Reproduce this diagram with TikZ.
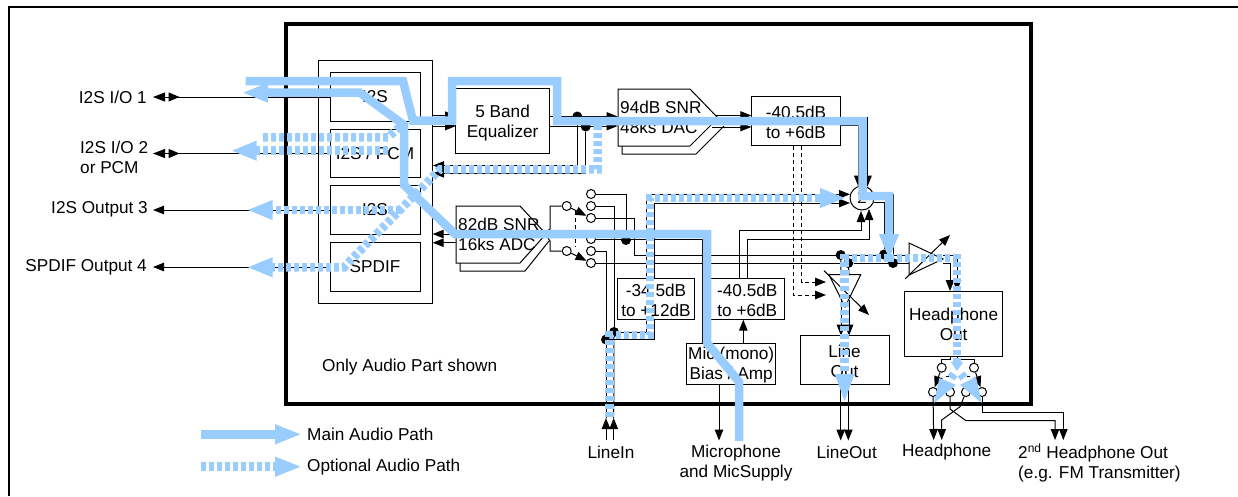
\documentclass[tikz,border=0pt]{standalone}
\usepackage{fontspec}
\setmainfont{Liberation Sans}
\usetikzlibrary{arrows.meta}
\definecolor{pathblue}{HTML}{99CCFF}
\tikzset{
  txt/.style={inner sep=0pt,align=center,font=\fontsize{17.2}{20}\selectfont},
  blk/.style={draw,line width=1pt,inner sep=0pt},
  blab/.style={txt,yshift=-1.3pt},
  wire/.style={line width=1pt},
  sig/.style={line width=1pt,-{Triangle[length=11pt,width=8.5pt]}},
  dsig/.style={sig,dashed,dash pattern=on 4pt off 3pt},
  pinc/.style={circle,draw,fill=white,line width=1pt,minimum size=9pt,inner sep=0pt},
  jdot/.style={circle,fill=black,minimum size=10pt,inner sep=0pt},
  bus/.style={line width=1pt,-{Triangle[reversed,length=11pt,width=9pt,sep=3.5pt] Triangle[length=12pt,width=9pt]}},
  mainp/.style={pathblue,line width=8.5pt,miter limit=10},
  optp/.style={pathblue,line width=8.5pt,dash pattern=on 5pt off 3pt,miter limit=10},
  bh/.style={-{Triangle[length=26pt,width=18pt]}}
}
\begin{document}
\begin{tikzpicture}[x=1pt,y=-1pt]
\useasboundingbox (0,0) rectangle (1238,496);
% frames
\draw[line width=2.2pt] (9,496) -- (9,7) -- (1238,7);
\draw[line width=4pt] (286,24) rectangle (1031,403.5);

% interface column
\node[draw,line width=1pt,minimum width=114pt,minimum height=242.5pt,inner sep=0pt] (big) at (375,181.75) {};
\node[blk,minimum width=90pt,minimum height=48.5pt,label={[txt]center:I2S}] (ia) at (375,97) {};
\node[blk,minimum width=90pt,minimum height=48.5pt,label={[txt]center:I2S / PCM}] (ib) at (375,153.5) {};
\node[blk,minimum width=90pt,minimum height=48.5pt,label={[txt]center:I2S}] (ic) at (375,210) {};
\node[blk,minimum width=90pt,minimum height=48.5pt,label={[txt]center:SPDIF}] (id) at (375,267) {};

% external labels
\node[txt,anchor=east] (la) at (147,97.5) {I2S I/O 1};
\node[txt,anchor=west,align=left] (lb) at (80,157) {I2S I/O 2\\or PCM};
\node[txt,anchor=east] (lc) at (148,209) {I2S Output 3};
\node[txt,anchor=east] (ld) at (147,267) {SPDIF Output 4};
\coordinate (ta) at (153,97);
\coordinate (tb) at (153,153.5);
\coordinate (tc) at (153,210);
\coordinate (td) at (153,267);
\draw[bus] (ia.west) -- (ta);
\draw[bus] (ib.west) -- (tb);
\draw[sig] (ic.west) -- (tc);
\draw[sig] (id.west) -- (td);

% processing blocks
\node[blk,minimum width=93.5pt,minimum height=65pt,label={[blab]center:{5 Band\\Equalizer}}] (eq) at (502.6,121.3) {};
\draw[wire] (622,146) -- (622,154) -- (696,154) -- (724,126);
\draw[wire] (618,89) -- (690,89) -- (718,118) -- (690,146) -- (618,146) -- cycle;
\node[txt,align=left,anchor=west] (dac) at (620,117.3) {94dB SNR\\48ks DAC};
\node[blk,minimum width=89.5pt,minimum height=48.5pt,label={[blab]center:{-40.5dB\\to +6dB}}] (ga) at (796,121) {};
\draw[wire] (460,263) -- (460,271) -- (525,271) -- (549,241);
\draw[wire] (456,206) -- (520,206) -- (546,234) -- (520,263) -- (456,263) -- cycle;
\node[txt,align=left,anchor=west] (adc) at (458,234.3) {82dB SNR\\16ks ADC};
\node[blk,minimum width=77.5pt,minimum height=41pt,label={[blab]center:{-34.5dB\\to +12dB}}] (gc) at (656,299.2) {};
\node[blk,minimum width=73.5pt,minimum height=41pt,label={[blab]center:{-40.5dB\\to +6dB}}] (gb) at (747.3,299.2) {};
\node[blk,minimum width=89pt,minimum height=41pt,label={[blab]center:{Mic (mono)\\Bias / Amp}}] (mic) at (731.2,363.8) {};
\node[blk,minimum width=89pt,minimum height=48.5pt,label={[blab]center:{Line\\Out}}] (lo) at (844.5,360) {};
\node[blk,minimum width=97.3pt,minimum height=65pt,label={[blab]center:{Headphone\\Out}}] (hp) at (953.6,323.5) {};
\node[draw,circle,fill=white,line width=1pt,minimum size=24pt,inner sep=0pt,font=\fontsize{15}{15}\selectfont] (sum) at (862,198) {Σ};

% line-out and headphone amplifiers
\coordinate (laA) at (829,274.7); \coordinate (laB) at (860.7,274.7); \coordinate (laC) at (845,307);
\draw[wire] (laA) -- (laB) -- (laC) -- cycle;
\coordinate (lv1) at (824,270.7); \coordinate (lv2) at (869,315);
\draw[sig] (lv1) -- (lv2);
\coordinate (haA) at (909,243); \coordinate (haB) at (909,275); \coordinate (haC) at (943,259);
\draw[wire] (haA) -- (haB) -- (haC) -- cycle;
\coordinate (hv1) at (905,279); \coordinate (hv2) at (950,235);
\draw[sig] (hv1) -- (hv2);

% switches
\node[pinc] (sl1) at (566.7,206) {};
\node[pinc] (sl2) at (566.7,251) {};
\node[pinc] (p1) at (591,194) {};
\node[pinc] (p2) at (591,206) {};
\node[pinc] (p3) at (591,218) {};
\node[pinc] (p4) at (591,239) {};
\node[pinc] (p5) at (591,251) {};
\node[pinc] (p6) at (591,263) {};
\draw[sig] (sl1) -- (p3);
\draw[sig] (sl2) -- (p6);
\coordinate (lk1) at (575,211); \coordinate (lk2) at (575,247);
\draw[wire,dashed,dash pattern=on 4pt off 3pt] (lk1) -- (lk2);
\coordinate (sa) at (550,206); \coordinate (sb) at (550,251);
\coordinate (sae) at (546,232); \coordinate (sbe) at (548,238);
\draw[wire] (sl1) -- (sa) -- (550,229) -- (sae);
\draw[wire] (sl2) -- (sb) -- (550,241) -- (sbe);

% junctions
\node[jdot] (d1) at (577.3,116.5) {};
\node[jdot] (d2) at (585.7,126.5) {};
\node[jdot] (dA) at (606,339.5) {};
\node[jdot] (dB) at (614,332) {};
\node[jdot] (dC) at (626,240) {};
\node[jdot] (dE) at (840.7,255) {};
\node[jdot] (dF) at (848.3,263) {};
\node[jdot] (dG) at (884,254.5) {};
\node[jdot] (dH) at (893,263) {};

% digital signal connectors
\coordinate (ei1) at (456,115.7); \coordinate (ei2) at (456,126);
\draw[sig] (big.east |- ei1) -- (ei1);
\draw[sig] (big.east |- ei2) -- (ei2);
\coordinate (da1) at (617.7,116.5); \coordinate (da2) at (617.7,126);
\draw[sig] (eq.east |- da1) -- (da1);
\draw[sig] (eq.east |- da2) -- (da2);
\coordinate (fb1) at (433,165.5); \coordinate (fb2) at (433,173.3);
\draw[sig] (d1) |- (fb1);
\draw[sig] (d2) |- (fb2);
\coordinate (ga1) at (751.3,115.5); \coordinate (ga2) at (751.3,127);
\draw[sig] (716,115.5) -- (ga1);
\draw[sig] (712,127) -- (ga2);
\coordinate (st1) at (867.5,186.5); \coordinate (st2) at (858.3,186.5);
\coordinate (go1) at (840.7,117); \coordinate (go2) at (840.7,125);
\draw[sig] (go1) -| (st1);
\draw[sig] (go2) -| (st2);
\coordinate (ad1) at (432.7,234); \coordinate (ad2) at (432.7,242.7);
\draw[sig] (456,234) -- (ad1);
\draw[sig] (456,242.7) -- (ad2);
% dashed to line-out amp
\coordinate (la1) at (826,282); \coordinate (la2) at (826,295);
\coordinate (gu1) at (801.7,145.5); \coordinate (gu2) at (793.3,145.5);
\draw[dsig] (gu1) |- (la1);
\draw[dsig] (gu2) |- (la2);

% analog routing
\draw[wire] (p1) -| (dC);
\draw[wire] (p2) -| (dB);
\draw[wire] (p5) -| (dA);
\coordinate (mt) at (702.7,343.3);
\draw[wire] (p4) -| (mt);
\coordinate (kn) at (634.7,255);
\draw[wire] (p3) -| (kn) -- (dE);
\draw[wire] (p6) -- (dF);
\draw[wire] (dE) -- (909,255);
\draw[wire] (dF) -- (909,263);
\coordinate (su1) at (850,194.3); \coordinate (su2) at (850,203);
\coordinate (g3a) at (646.7,278.7); \coordinate (g3b) at (654.3,278.7);
\draw[sig] (g3a) |- (su1);
\draw[sig] (g3b) |- (su2);
\coordinate (g3c) at (646.7,319.7); \coordinate (g3d) at (654.3,319.7);
\draw[wire] (g3c) |- (dB);
\draw[wire] (g3d) |- (dA);
% sum inputs from lower gain
\coordinate (g2a) at (739,278.7); \coordinate (g2b) at (747.3,278.7);
\coordinate (s1k) at (861,230.7); \coordinate (s2k) at (869,239);
\coordinate (sb1) at (861,211); \coordinate (sb2) at (869,209);
\draw[sig] (g2a) |- (s1k) -- (sb1);
\draw[sig] (g2b) |- (s2k) -- (sb2);
% sum outputs
\draw[wire] (sum.east |- su1) -- (893,194.3) -- (dH);
\draw[wire] (874,202) -- (884,202) -- (dG);
% mic
\coordinate (mg) at (743.3,319.7); \coordinate (mgb) at (743.3,343.3);
\draw[sig] (mgb) -- (mg);
\coordinate (mb) at (719,384.3); \coordinate (mo) at (719,440.5);
\draw[sig] (mb) -- (mo);
% LineIn
\coordinate (li1) at (606,440); \coordinate (li2) at (613.7,440);
\coordinate (lt1) at (606,418); \coordinate (lt2) at (613.7,418);
\draw[sig] (li1) -- (lt1);
\draw[sig] (li2) -- (lt2);
\draw[wire] (lt1) -- (dA);
\draw[wire] (lt2) -- (dB);
% Line out
\coordinate (a1) at (841,275); \coordinate (a2) at (849,275);
\draw[wire] (dE) -- (a1);
\draw[wire] (dF) -- (a2);
\coordinate (a3) at (841,300); \coordinate (a4) at (849,300);
\draw[sig] (a3) -- (841,335.7);
\draw[sig] (a4) -- (849,335.7);
\coordinate (o1) at (840.7,440.5); \coordinate (o2) at (848.3,440.5);
\draw[sig] (o1 |- lo.south) -- (o1);
\draw[sig] (o2 |- lo.south) -- (o2);
% headphone amp
\coordinate (h1) at (950,291); \coordinate (h2) at (957,291);
\draw[sig] (943,263) -| (h1);
\draw[sig] (943,255) -| (h2);

% headphone switch
\node[pinc] (hs1) at (941.7,367.7) {};
\node[pinc] (hs2) at (974,367.7) {};
\node[pinc] (hp1) at (933,392) {};
\node[pinc] (hp2) at (950,392) {};
\node[pinc] (hp3) at (966,392) {};
\node[pinc] (hp4) at (982,392) {};
\coordinate (hu1) at (950,356); \coordinate (hu2) at (957,356);
\draw[wire] (hu1) -- (950,359) -- (941.7,359) -- (hs1);
\draw[wire] (hu2) -- (957,359) -- (974,359) -- (hs2);
\draw[sig] (hs1) -- (hp1);
\draw[sig] (hs2) -- (hp4);
\coordinate (hl1) at (946,376); \coordinate (hl2) at (970,376);
\draw[wire,dashed,dash pattern=on 4pt off 3pt] (hl1) -- (hl2);
\coordinate (ho1) at (933.7,440); \coordinate (ho2) at (941.7,440);
\coordinate (ho3) at (1055,440); \coordinate (ho4) at (1063.3,440);
\draw[sig] (hp1) -- (ho1);
\draw[sig] (hp3) -- (960,406.7) -- (941.7,420) -- (ho2);
\draw[sig] (hp2) -- (950,409) -- (966,420.7) -- (1055,420.7) -- (ho3);
\draw[sig] (hp4) -- (982,412.7) -- (1063.3,412.7) -- (ho4);

% captions
\node[txt,anchor=west] (cap) at (322,367.5) {Only Audio Part shown};
\node[txt] (cli) at (611,452) {LineIn};
\node[txt] (cmi) at (736,463) {Microphone\\and MicSupply};
\node[txt] (clo) at (846.7,452) {LineOut};
\node[txt] (chp) at (946.7,452.3) {Headphone};
\node[txt,align=left,anchor=west] (cfm) at (1018,462.7) {2\textsuperscript{nd} Headphone Out\\(e.g. FM Transmitter)};

% blue audio paths
\coordinate (m1s) at (245.7,81); \coordinate (m1e) at (889,260);
\draw[mainp,bh] (m1s) -- (403,81) -- (413,120.7) -- (452,120.7) -- (452,81) -- (557,81) -- (557,121) -- (862.7,121) -- (862.7,196) -- (889,196) -- (m1e);
\coordinate (m2s) at (739,441); \coordinate (m2e) at (242,92.7);
\draw[mainp,bh] (m2s) -- (739,381.7) -- (707,343) -- (707,234) -- (455,234) -- (404,185) -- (404,125) -- (360,92.7) -- (m2e);
\coordinate (o1s) at (263,137.3); \coordinate (o1e) at (402,125);
\draw[optp] (o1s) -- (388,137.3) -- (o1e);
\coordinate (o2s) at (388,150.7); \coordinate (o2e) at (230.7,150.7);
\draw[optp,bh] (o2s) -- (o2e);
\coordinate (o3s) at (597.7,125); \coordinate (o3e) at (246.7,267.3);
\draw[optp,bh] (o3s) -- (597.7,169.3) -- (440,169.3) -- (349,262) -- (344,267.3) -- (o3e);
\coordinate (o4s) at (401,210); \coordinate (o4e) at (246.7,210);
\draw[optp,bh] (o4s) -- (o4e);
\coordinate (o5s) at (609.7,416.7); \coordinate (o5e) at (846,198);
\draw[optp,bh] (o5s) -- (609.7,335) -- (650,335) -- (650,198) -- (o5e);
\coordinate (o6s) at (889,258); \coordinate (o6e) at (844.6,404);
\draw[optp,-{Triangle[length=30pt,width=17pt]}] (o6s) -- (844.6,258) -- (o6e);
\coordinate (o7e) at (957,371);
\draw[optp,-{Triangle[length=9pt,width=12pt]}] (o6s) -- (957,258) -- (o7e);
% headphone split
\coordinate (sp1) at (954,374); \coordinate (sp2) at (951,378);
\coordinate (sp3) at (961,374); \coordinate (sp4) at (964,378);
\draw[pathblue,line width=8.5pt] (sp1) -- (sp2);
\draw[pathblue,line width=8.5pt] (sp3) -- (sp4);
\fill[pathblue] (934,403) -- (939.3,378) -- (956,385) -- cycle;
\fill[pathblue] (981.7,403) -- (976,376.7) -- (960,385) -- cycle;

% legend
\coordinate (lg1) at (201,434.3); \coordinate (lg2) at (302,434.3);
\coordinate (lg3) at (201,466.7); \coordinate (lg4) at (302,466.7);
\draw[mainp,-{Triangle[length=27pt,width=18pt]}] (lg1) -- (lg2);
\draw[optp,-{Triangle[length=27pt,width=18pt]}] (lg3) -- (lg4);
\node[txt,anchor=west] (lgm) at (307,434.5) {Main Audio Path};
\node[txt,anchor=west] (lgo) at (307,467.5) {Optional Audio Path};
\end{tikzpicture}
\end{document}
